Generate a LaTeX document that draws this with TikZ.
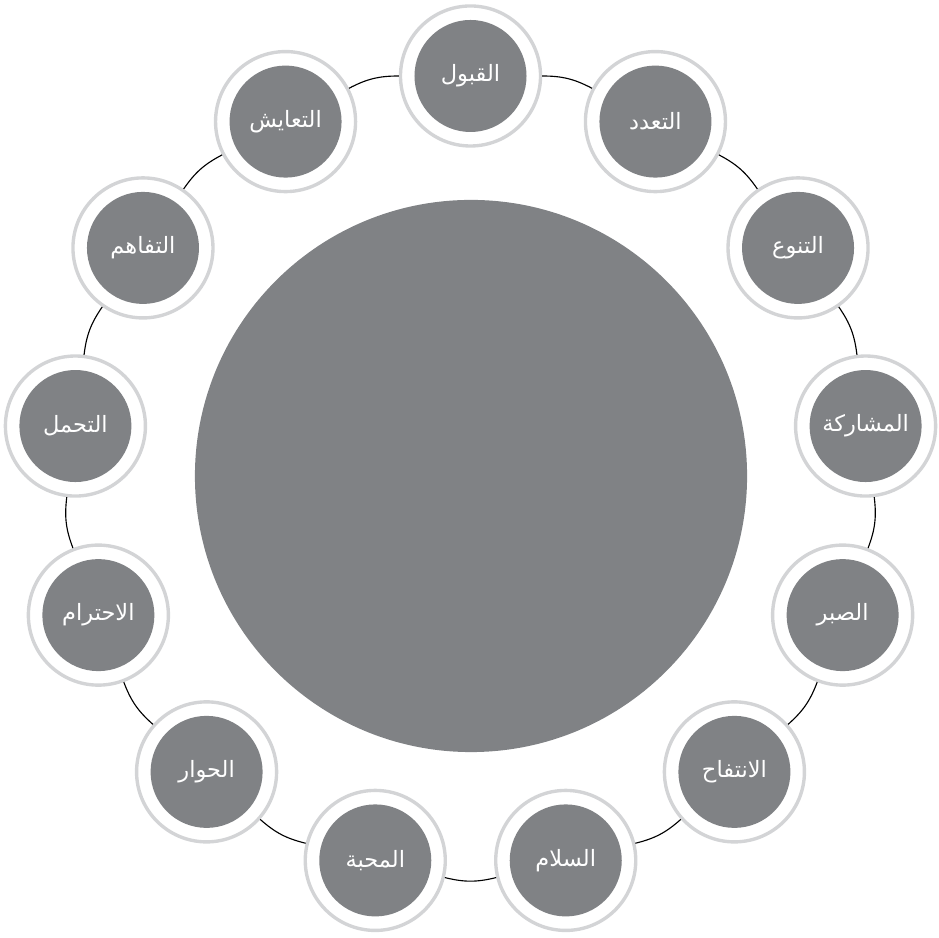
\documentclass[tikz,border=0pt]{standalone}
\usepackage{fontspec}
\usepackage{xcolor}
\usetikzlibrary{calc}
\newfontfamily\arabicfont[Script=Arabic]{DejaVu Sans}
\TeXXeTstate=1
\definecolor{discgray}{RGB}{128,130,133}
\definecolor{rimgray}{RGB}{211,212,214}

\begin{document}
\begin{tikzpicture}[x=0.025cm, y=0.025cm,
    hub/.style={circle, fill=discgray, minimum size=13.8cm, inner sep=0pt},
    rim/.style={circle, draw=rimgray, fill=white, line width=2.4pt, minimum size=3.5cm, inner sep=0pt},
    disc/.style={circle, fill=discgray, minimum size=2.8cm, inner sep=0pt, text=white,
      font=\arabicfont\fontsize{16}{18}\selectfont}]
  \useasboundingbox (0,0) rectangle (939,938);
  \coordinate (c) at (470.5,464);
  \node[hub] (core) at (471,462) {};
  \foreach \w [count=\i from 0] in {القبول,التعدد,التنوع,المشاركة,الصبر,الانتفاح,السلام,المحبة,الحوار,الاحترام,التحمل,التفاهم,التعايش}{
    \pgfmathsetmacro{\a}{90-\i*360/13}
    \node[rim] (p\i) at ($(c)+(\a:398)$) {};
    \node[disc] (q\i) at (p\i) {\beginR\w\endR};
  }
  \foreach \i [remember=\i as \j (initially 12)] in {0,...,12}
    \draw[line width=0.8pt] (p\j) to[bend left=13.85] (p\i);
\end{tikzpicture}
\end{document}
